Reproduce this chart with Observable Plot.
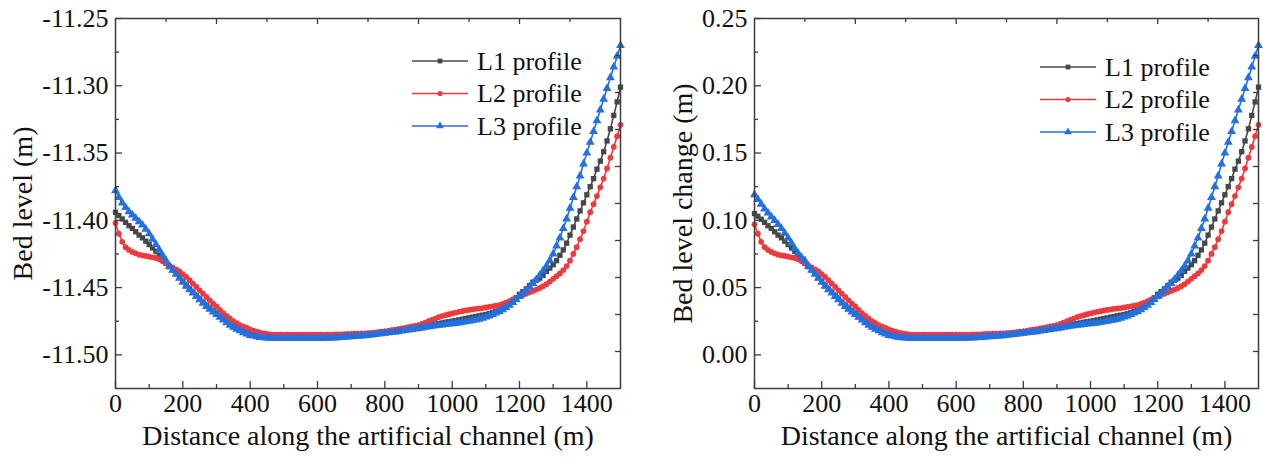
<!DOCTYPE html>
<html><head><meta charset="utf-8">
<script src="https://cdn.jsdelivr.net/npm/d3@7"></script>
<script src="https://cdn.jsdelivr.net/npm/@observablehq/plot@0.6"></script>
<style>
body{margin:0;background:#fff;}
#wrap{position:relative;width:1263px;height:459px;overflow:hidden;font-family:"Liberation Serif","Times New Roman",serif;}
#wrap > .panel{position:absolute;top:0;}
#wrap > .legend{position:absolute;}
</style></head><body><div id="wrap"></div>
<script>
// Distance along the artificial channel (m)
const distance = [0,10,20,30,40,50,60,70,80,90,100,110,120,130,140,150,160,170,180,190,200,210,220,230,240,250,260,270,280,290,300,310,320,330,340,350,360,370,380,390,400,410,420,430,440,450,460,470,480,490,500,510,520,530,540,550,560,570,580,590,600,610,620,630,640,650,660,670,680,690,700,710,720,730,740,750,760,770,780,790,800,810,820,830,840,850,860,870,880,890,900,910,920,930,940,950,960,970,980,990,1000,1010,1020,1030,1040,1050,1060,1070,1080,1090,1100,1110,1120,1130,1140,1150,1160,1170,1180,1190,1200,1210,1220,1230,1240,1250,1260,1270,1280,1290,1300,1310,1320,1330,1340,1350,1360,1370,1380,1390,1400,1410,1420,1430,1440,1450,1460,1470,1480,1490,1500];

// Left panel: bed level (m)
const levelL1 = [
-11.394,-11.3965,-11.399,-11.4015,-11.404,-11.406,-11.4085,-11.411,-11.413,-11.4155,
-11.418,-11.4205,-11.423,-11.426,-11.429,-11.432,-11.4345,-11.437,-11.4395,-11.4425,
-11.4455,-11.4485,-11.451,-11.4535,-11.456,-11.4585,-11.461,-11.4633,-11.4655,-11.4675,
-11.4695,-11.4715,-11.4735,-11.4755,-11.4773,-11.479,-11.4803,-11.4815,-11.4827,-11.4837,
-11.4845,-11.4852,-11.4857,-11.486,-11.4863,-11.4865,-11.4866,-11.4867,-11.4867,-11.4867,
-11.4867,-11.4867,-11.4867,-11.4867,-11.4867,-11.4867,-11.4867,-11.4867,-11.4867,-11.4867,
-11.4867,-11.4867,-11.4866,-11.4866,-11.4865,-11.4865,-11.4864,-11.4863,-11.4862,-11.4861,
-11.486,-11.4858,-11.4856,-11.4854,-11.4852,-11.485,-11.4847,-11.4844,-11.4841,-11.4838,
-11.4835,-11.4832,-11.4829,-11.4826,-11.4822,-11.4818,-11.4814,-11.481,-11.4806,-11.4802,
-11.4798,-11.4793,-11.4788,-11.4783,-11.4778,-11.4773,-11.4768,-11.4763,-11.4758,-11.4754,
-11.475,-11.4745,-11.474,-11.4735,-11.473,-11.4725,-11.472,-11.4715,-11.471,-11.4705,
-11.47,-11.4694,-11.4687,-11.4679,-11.467,-11.466,-11.4645,-11.4625,-11.46,-11.4575,
-11.455,-11.453,-11.451,-11.4485,-11.446,-11.4445,-11.443,-11.441,-11.438,-11.4355,
-11.433,-11.43,-11.426,-11.422,-11.417,-11.411,-11.405,-11.399,-11.393,-11.387,
-11.381,-11.375,-11.369,-11.362,-11.356,-11.349,-11.341,-11.332,-11.322,-11.312,
-11.301];
const levelL2 = [
-11.402,-11.410,-11.416,-11.420,-11.422,-11.4235,-11.4245,-11.4255,-11.426,-11.4265,
-11.427,-11.4275,-11.428,-11.429,-11.4305,-11.432,-11.4335,-11.435,-11.4365,-11.438,
-11.440,-11.442,-11.4445,-11.447,-11.4495,-11.452,-11.4545,-11.457,-11.4595,-11.462,
-11.464,-11.4665,-11.469,-11.471,-11.473,-11.475,-11.4765,-11.478,-11.479,-11.480,
-11.481,-11.482,-11.4828,-11.4835,-11.484,-11.4845,-11.4848,-11.485,-11.485,-11.485,
-11.485,-11.485,-11.485,-11.485,-11.485,-11.485,-11.485,-11.485,-11.485,-11.485,
-11.485,-11.485,-11.485,-11.4849,-11.4849,-11.4848,-11.4848,-11.4847,-11.4846,-11.4845,
-11.4844,-11.4843,-11.4842,-11.4841,-11.484,-11.4838,-11.4836,-11.4834,-11.4831,-11.4828,
-11.4825,-11.4821,-11.4817,-11.4813,-11.4809,-11.4804,-11.4799,-11.4794,-11.4789,-11.4784,
-11.478,-11.477,-11.476,-11.475,-11.474,-11.473,-11.472,-11.4712,-11.4705,-11.4698,
-11.4692,-11.4686,-11.468,-11.4675,-11.467,-11.4666,-11.4662,-11.4658,-11.4655,-11.4652,
-11.4648,-11.4644,-11.464,-11.4635,-11.463,-11.4622,-11.4612,-11.46,-11.4588,-11.4576,
-11.4565,-11.4555,-11.4545,-11.4535,-11.4525,-11.4515,-11.4503,-11.449,-11.4475,-11.4455,
-11.4435,-11.4415,-11.4395,-11.437,-11.434,-11.430,-11.425,-11.420,-11.414,-11.408,
-11.401,-11.394,-11.388,-11.382,-11.3755,-11.369,-11.3615,-11.3535,-11.3455,-11.3375,
-11.329];
const levelL3 = [
-11.378,-11.383,-11.387,-11.3905,-11.3935,-11.396,-11.3985,-11.401,-11.4035,-11.4065,
-11.410,-11.414,-11.418,-11.422,-11.426,-11.430,-11.434,-11.437,-11.440,-11.443,
-11.446,-11.449,-11.4515,-11.454,-11.4565,-11.459,-11.4615,-11.464,-11.466,-11.468,
-11.470,-11.472,-11.474,-11.476,-11.478,-11.4795,-11.481,-11.482,-11.4835,-11.4845,
-11.4855,-11.486,-11.4865,-11.487,-11.4873,-11.4875,-11.4876,-11.4877,-11.4877,-11.4877,
-11.4877,-11.4877,-11.4877,-11.4877,-11.4877,-11.4877,-11.4877,-11.4877,-11.4877,-11.4877,
-11.4877,-11.4877,-11.4876,-11.4876,-11.4875,-11.4874,-11.4873,-11.4871,-11.4869,-11.4867,
-11.4865,-11.4863,-11.4861,-11.4859,-11.4857,-11.4854,-11.4851,-11.4848,-11.4845,-11.4842,
-11.4839,-11.4836,-11.4833,-11.483,-11.4827,-11.4823,-11.4819,-11.4815,-11.4811,-11.4807,
-11.4803,-11.4799,-11.4795,-11.4791,-11.4787,-11.4783,-11.478,-11.4777,-11.4774,-11.4771,
-11.4768,-11.4765,-11.4762,-11.4758,-11.4754,-11.475,-11.4745,-11.474,-11.4734,-11.4727,
-11.4719,-11.471,-11.47,-11.4689,-11.4677,-11.4664,-11.4648,-11.463,-11.461,-11.4588,
-11.4565,-11.4545,-11.452,-11.4495,-11.447,-11.444,-11.441,-11.4375,-11.434,-11.430,
-11.425,-11.419,-11.413,-11.406,-11.399,-11.391,-11.383,-11.375,-11.367,-11.358,
-11.350,-11.342,-11.334,-11.326,-11.318,-11.310,-11.302,-11.294,-11.286,-11.278,
-11.270];

// Right panel: bed level change (m)
const changeL1 = [
0.105,0.1030,0.1008,0.0985,0.096,0.094,0.0915,0.089,0.087,0.0845,
0.082,0.0795,0.077,0.074,0.071,0.068,0.0655,0.063,0.0605,0.0575,
0.0545,0.0515,0.049,0.0465,0.044,0.0415,0.039,0.0367,0.0345,0.0325,
0.0305,0.0285,0.0265,0.0245,0.0227,0.021,0.0197,0.0185,0.0173,0.0163,
0.0155,0.0148,0.0143,0.014,0.0137,0.0135,0.0134,0.0133,0.0133,0.0133,
0.0133,0.0133,0.0133,0.0133,0.0133,0.0133,0.0133,0.0133,0.0133,0.0133,
0.0133,0.0133,0.0134,0.0134,0.0135,0.0135,0.0136,0.0137,0.0138,0.0139,
0.014,0.0142,0.0144,0.0146,0.0148,0.015,0.0153,0.0156,0.0159,0.0162,
0.0165,0.0168,0.0171,0.0174,0.0178,0.0182,0.0186,0.019,0.0194,0.0198,
0.0202,0.0207,0.0212,0.0217,0.0222,0.0227,0.0232,0.0237,0.0242,0.0246,
0.025,0.0255,0.026,0.0265,0.027,0.0275,0.028,0.0285,0.029,0.0295,
0.030,0.0306,0.0313,0.0321,0.033,0.034,0.0355,0.0375,0.040,0.0425,
0.045,0.047,0.049,0.0515,0.054,0.0555,0.057,0.059,0.062,0.0645,
0.067,0.070,0.074,0.078,0.083,0.089,0.095,0.101,0.107,0.113,
0.119,0.125,0.131,0.138,0.144,0.151,0.159,0.168,0.178,0.188,
0.199];
const changeL2 = [
0.097,0.090,0.084,0.080,0.078,0.0765,0.0755,0.0745,0.074,0.0735,
0.073,0.0725,0.072,0.071,0.0695,0.068,0.0665,0.065,0.0635,0.062,
0.060,0.058,0.0555,0.053,0.0505,0.048,0.0455,0.043,0.0405,0.038,
0.036,0.0335,0.031,0.029,0.027,0.025,0.0235,0.022,0.021,0.020,
0.019,0.018,0.0172,0.0165,0.016,0.0155,0.0152,0.015,0.015,0.015,
0.015,0.015,0.015,0.015,0.015,0.015,0.015,0.015,0.015,0.015,
0.015,0.015,0.015,0.0151,0.0151,0.0152,0.0152,0.0153,0.0154,0.0155,
0.0156,0.0157,0.0158,0.0159,0.016,0.0162,0.0164,0.0166,0.0169,0.0172,
0.0175,0.0179,0.0183,0.0187,0.0191,0.0196,0.0201,0.0206,0.0211,0.0216,
0.022,0.023,0.024,0.025,0.026,0.027,0.028,0.0288,0.0295,0.0302,
0.0308,0.0314,0.032,0.0325,0.033,0.0334,0.0338,0.0342,0.0345,0.0348,
0.0352,0.0356,0.036,0.0365,0.037,0.0378,0.0388,0.040,0.0412,0.0424,
0.0435,0.0445,0.0455,0.0465,0.0475,0.0485,0.0497,0.051,0.0525,0.0545,
0.0565,0.0585,0.0605,0.063,0.066,0.070,0.075,0.080,0.086,0.092,
0.099,0.106,0.112,0.118,0.1245,0.131,0.1385,0.1465,0.1545,0.1625,
0.171];
const changeL3 = [
0.119,0.1155,0.112,0.1085,0.1055,0.1025,0.100,0.097,0.094,0.0905,
0.087,0.083,0.079,0.0755,0.0725,0.070,0.066,0.063,0.060,0.057,
0.054,0.051,0.0485,0.046,0.0435,0.041,0.0385,0.036,0.034,0.032,
0.030,0.028,0.026,0.024,0.022,0.0205,0.019,0.018,0.0165,0.0155,
0.0145,0.014,0.0135,0.013,0.0127,0.0125,0.0124,0.0123,0.0123,0.0123,
0.0123,0.0123,0.0123,0.0123,0.0123,0.0123,0.0123,0.0123,0.0123,0.0123,
0.0123,0.0123,0.0124,0.0124,0.0125,0.0126,0.0127,0.0129,0.0131,0.0133,
0.0135,0.0137,0.0139,0.0141,0.0143,0.0146,0.0149,0.0152,0.0155,0.0158,
0.0161,0.0164,0.0167,0.017,0.0173,0.0177,0.0181,0.0185,0.0189,0.0193,
0.0197,0.0201,0.0205,0.0209,0.0213,0.0217,0.022,0.0223,0.0226,0.0229,
0.0232,0.0235,0.0238,0.0242,0.0246,0.025,0.0255,0.026,0.0266,0.0273,
0.0281,0.029,0.030,0.0311,0.0323,0.0336,0.0352,0.037,0.039,0.0412,
0.0435,0.0455,0.048,0.0505,0.053,0.056,0.059,0.0625,0.066,0.070,
0.075,0.081,0.087,0.094,0.101,0.109,0.117,0.125,0.133,0.142,
0.150,0.158,0.166,0.174,0.182,0.190,0.198,0.206,0.214,0.222,
0.230];

const seriesNames = ["L1 profile", "L2 profile", "L3 profile"];
const seriesColors = ["#474747", "#f0393d", "#2370e0"];
const seriesSymbols = ["square", "circle", "triangle"];
const seriesRadius = [3.0, 2.9, 3.3];

// Axis ticks
const xMajorTicks = [0, 200, 400, 600, 800, 1000, 1200, 1400];
const xMinorTicks = [100, 300, 500, 700, 900, 1100, 1300];
const xTopMajorTicks = [300, 600, 900, 1200];
const xTopMinorTicks = [150, 450, 750, 1050, 1350];
const levelMajorTicks = [-11.50, -11.45, -11.40, -11.35, -11.30, -11.25];
const levelMinorTicks = [-11.475, -11.425, -11.375, -11.325, -11.275];
const levelRightTicks = [-11.4975, -11.47, -11.4425, -11.415, -11.3875, -11.36, -11.3325, -11.305, -11.2775];
const changeMajorTicks = [0.00, 0.05, 0.10, 0.15, 0.20, 0.25];
const changeMinorTicks = [0.025, 0.075, 0.125, 0.175, 0.225];
const changeRightTicks = [0.0025, 0.03, 0.0575, 0.085, 0.1125, 0.14, 0.1675, 0.195, 0.2225];

const xTitle = "Distance along the artificial channel (m)";
const axisColor = "#3c3c3c";
const TICK_FS = 26, TITLE_FS = 28;

function makePanel(cfg) {
  const H = 459, mt = 18, mb = 71;
  const fw = cfg.width - cfg.marginLeft - cfg.marginRight;
  const fh = H - mt - mb;
  const marks = [];
  cfg.series.forEach((vals, i) => {
    const rows = distance.map((d, j) => ({d, v: vals[j]}));
    marks.push(Plot.line(rows, {x: "d", y: "v", stroke: seriesColors[i], strokeWidth: 1.6}));
    marks.push(Plot.dot(rows, {x: "d", y: "v", fill: seriesColors[i], symbol: seriesSymbols[i], r: seriesRadius[i], stroke: "none"}));
  });
  const tk = {stroke: axisColor, strokeWidth: 1.3};
  marks.push(
    Plot.frame({stroke: axisColor, strokeWidth: 1.5}),
    Plot.tickX(xMajorTicks, {x: d => d, insetTop: fh - 7, ...tk}),
    Plot.tickX(xMinorTicks, {x: d => d, insetTop: fh - 4, ...tk}),
    Plot.tickX(xTopMajorTicks, {x: d => d, insetBottom: fh - 6, ...tk}),
    Plot.tickX(xTopMinorTicks, {x: d => d, insetBottom: fh - 4, ...tk}),
    Plot.tickY(cfg.yMajor, {y: d => d, insetRight: fw - 7, ...tk}),
    Plot.tickY(cfg.yMinor, {y: d => d, insetRight: fw - 4, ...tk}),
    Plot.tickY(cfg.yRight, {y: d => d, insetLeft: fw - 5, ...tk}),
    Plot.text(xMajorTicks, {x: d => d, frameAnchor: "bottom", dy: 23, text: d => String(d), fontSize: TICK_FS, fill: "#111"}),
    Plot.text(cfg.yMajor, {y: d => d, frameAnchor: "left", dx: -7, textAnchor: "end", text: d => d.toFixed(2), fontSize: TICK_FS, fill: "#111"}),
    Plot.text([xTitle], {frameAnchor: "bottom", dy: 56, textAnchor: "middle", text: d => d, fontSize: TITLE_FS, fill: "#111"}),
    Plot.text([cfg.yTitle], {frameAnchor: "left", dx: cfg.yTitleDx, rotate: -90, textAnchor: "middle", text: d => d, fontSize: TITLE_FS, fill: "#111"})
  );
  return Plot.plot({
    width: cfg.width, height: H,
    marginLeft: cfg.marginLeft, marginRight: cfg.marginRight, marginTop: mt, marginBottom: mb,
    x: {domain: [0, 1500], axis: null},
    y: {domain: cfg.yDomain, axis: null},
    style: {fontFamily: '"Liberation Serif","Times New Roman",serif', background: "transparent", overflow: "visible"},
    marks
  });
}

function makeLegend(left, top) {
  const rowH = 32.5;
  const svg = d3.create("svg").attr("width", 200).attr("height", 110)
    .style("font-family", '"Liberation Serif","Times New Roman",serif');
  seriesNames.forEach((name, i) => {
    const y = 14 + i * rowH;
    const g = svg.append("g");
    g.append("line").attr("x1", 2).attr("x2", 58).attr("y1", y).attr("y2", y)
      .attr("stroke", seriesColors[i]).attr("stroke-width", 1.5);
    const symType = [d3.symbolSquare, d3.symbolCircle, d3.symbolTriangle][i];
    g.append("path").attr("d", d3.symbol(symType, Math.PI * seriesRadius[i] ** 2 * 0.8)())
      .attr("transform", `translate(30,${y})`).attr("fill", seriesColors[i]);
    g.append("text").attr("x", 67).attr("y", y).attr("dy", "0.33em")
      .attr("font-size", 26).attr("fill", "#111").text(name);
  });
  const div = document.createElement("div");
  div.className = "legend";
  div.style.left = left + "px";
  div.style.top = top + "px";
  div.appendChild(svg.node());
  return div;
}

const wrap = document.getElementById("wrap");

const leftPanel = makePanel({
  width: 630, marginLeft: 115, marginRight: 10,
  yDomain: [-11.525, -11.25],
  yMajor: levelMajorTicks, yMinor: levelMinorTicks, yRight: levelRightTicks,
  series: [levelL1, levelL2, levelL3],
  yTitle: "Bed level (m)", yTitleDx: -92
});
const rightPanel = makePanel({
  width: 633, marginLeft: 124, marginRight: 5,
  yDomain: [-0.025, 0.25],
  yMajor: changeMajorTicks, yMinor: changeMinorTicks, yRight: changeRightTicks,
  series: [changeL1, changeL2, changeL3],
  yTitle: "Bed level change (m)", yTitleDx: -71
});

const d1 = document.createElement("div"); d1.className = "panel"; d1.style.left = "0px"; d1.appendChild(leftPanel);
const d2 = document.createElement("div"); d2.className = "panel"; d2.style.left = "630px"; d2.appendChild(rightPanel);
wrap.appendChild(d1); wrap.appendChild(d2);
wrap.appendChild(makeLegend(410, 47));
wrap.appendChild(makeLegend(1038, 53));
</script></body></html>
